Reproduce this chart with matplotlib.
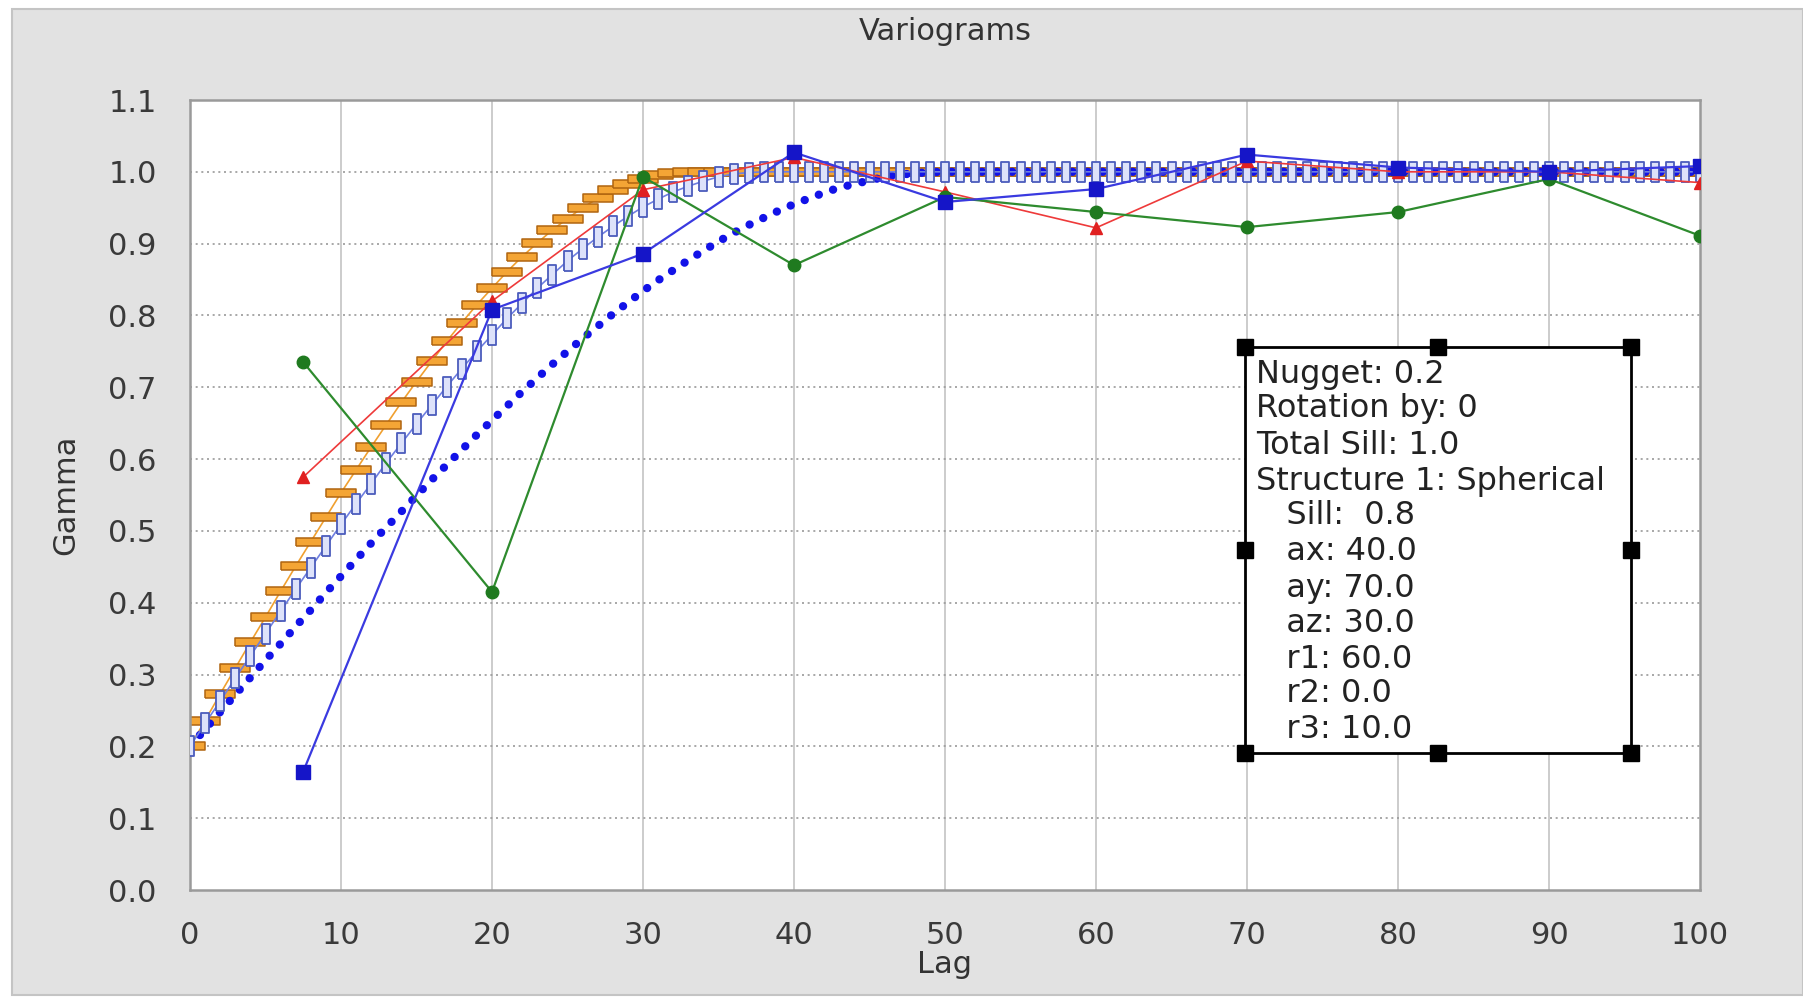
import matplotlib
matplotlib.use("Agg")
import matplotlib.pyplot as plt
from matplotlib.patches import Rectangle
import numpy as np

# ---------------- data ----------------
model_lags = np.arange(0, 101)

model_orange = [0.200, 0.236, 0.273, 0.309, 0.345, 0.380, 0.416, 0.451, 0.485, 0.519,
                0.553, 0.585, 0.617, 0.648, 0.679, 0.708, 0.736, 0.764, 0.790, 0.815,
                0.838, 0.861, 0.882, 0.901, 0.919, 0.935, 0.950, 0.963, 0.974, 0.983,
                0.990, 0.996, 0.999,
                1.0, 1.0, 1.0, 1.0, 1.0, 1.0, 1.0, 1.0, 1.0, 1.0,
                1.0, 1.0, 1.0, 1.0, 1.0, 1.0, 1.0, 1.0, 1.0, 1.0,
                1.0, 1.0, 1.0, 1.0, 1.0, 1.0, 1.0, 1.0, 1.0, 1.0,
                1.0, 1.0, 1.0, 1.0, 1.0, 1.0, 1.0, 1.0, 1.0, 1.0,
                1.0, 1.0, 1.0, 1.0, 1.0, 1.0, 1.0, 1.0, 1.0, 1.0,
                1.0, 1.0, 1.0, 1.0, 1.0, 1.0, 1.0, 1.0, 1.0, 1.0,
                1.0, 1.0, 1.0, 1.0, 1.0, 1.0, 1.0, 1.0]

model_lightblue = [0.200, 0.232, 0.263, 0.295, 0.326, 0.357, 0.388, 0.419, 0.449, 0.479,
                   0.509, 0.538, 0.566, 0.595, 0.622, 0.649, 0.675, 0.701, 0.726, 0.750,
                   0.773, 0.796, 0.817, 0.838, 0.857, 0.876, 0.893, 0.909, 0.924, 0.938,
                   0.951, 0.962, 0.972, 0.980, 0.987, 0.993, 0.997, 0.999,
                   1.0, 1.0, 1.0, 1.0, 1.0, 1.0, 1.0, 1.0, 1.0, 1.0,
                   1.0, 1.0, 1.0, 1.0, 1.0, 1.0, 1.0, 1.0, 1.0, 1.0,
                   1.0, 1.0, 1.0, 1.0, 1.0, 1.0, 1.0, 1.0, 1.0, 1.0,
                   1.0, 1.0, 1.0, 1.0, 1.0, 1.0, 1.0, 1.0, 1.0, 1.0,
                   1.0, 1.0, 1.0, 1.0, 1.0, 1.0, 1.0, 1.0, 1.0, 1.0,
                   1.0, 1.0, 1.0, 1.0, 1.0, 1.0, 1.0, 1.0, 1.0, 1.0,
                   1.0, 1.0, 1.0]

model_blue = [0.200, 0.224, 0.248, 0.272, 0.296, 0.320, 0.343, 0.367, 0.390, 0.414,
              0.437, 0.460, 0.483, 0.505, 0.527, 0.549, 0.571, 0.592, 0.613, 0.634,
              0.654, 0.674, 0.694, 0.713, 0.732, 0.750, 0.768, 0.785, 0.802, 0.818,
              0.834, 0.849, 0.863, 0.877, 0.890, 0.903, 0.915, 0.926, 0.936, 0.946,
              0.955, 0.963, 0.971, 0.978, 0.983, 0.988, 0.993, 0.996, 0.998, 0.9995,
              1.0, 1.0, 1.0, 1.0, 1.0, 1.0, 1.0, 1.0, 1.0, 1.0,
              1.0, 1.0, 1.0, 1.0, 1.0, 1.0, 1.0, 1.0, 1.0, 1.0,
              1.0, 1.0, 1.0, 1.0, 1.0, 1.0, 1.0, 1.0, 1.0, 1.0,
              1.0, 1.0, 1.0, 1.0, 1.0, 1.0, 1.0, 1.0, 1.0, 1.0,
              1.0, 1.0, 1.0, 1.0, 1.0, 1.0, 1.0, 1.0, 1.0, 1.0,
              1.0]

exp_lags = [7.5, 20, 30, 40, 50, 60, 70, 80, 90, 100]
exp_red = [0.575, 0.820, 0.975, 1.020, 0.972, 0.922, 1.015, 1.000, 1.000, 0.985]
exp_green = [0.735, 0.415, 0.993, 0.870, 0.965, 0.944, 0.923, 0.944, 0.990, 0.911]
exp_blue = [0.165, 0.808, 0.886, 1.027, 0.958, 0.976, 1.024, 1.006, 1.000, 1.008]

x_ticks = [0, 10, 20, 30, 40, 50, 60, 70, 80, 90, 100]
y_ticks = [0.0, 0.1, 0.2, 0.3, 0.4, 0.5, 0.6, 0.7, 0.8, 0.9, 1.0, 1.1]

info_lines = ["Nugget: 0.2", "Rotation by: 0", "Total Sill: 1.0",
              "Structure 1: Spherical", "   Sill:  0.8", "   ax: 40.0",
              "   ay: 70.0", "   az: 30.0", "   r1: 60.0", "   r2: 0.0", "   r3: 10.0"]

# ---------------- figure ----------------
W, H = 1803, 1002
fig = plt.figure(figsize=(W / 100, H / 100), dpi=100, facecolor="white")
bg = Rectangle((12 / W, 7 / H), 1 - 12 / W, (995 - 9) / H,
               transform=fig.transFigure, facecolor="#e2e2e2",
               edgecolor="#c4c4c4", lw=1.5, zorder=-10)
fig.add_artist(bg)

ax = fig.add_axes([190 / W, 1 - 890 / H, 1510 / W, 790 / H])
ax.set_zorder(1)
ax.set_facecolor("white")
ax.set_xlim(0, 100)
ax.set_ylim(0, 1.1)

# grid
for xv in x_ticks[1:-1]:
    ax.axvline(xv, color="#c4c4c4", lw=1.2, zorder=0.5)
for yv in y_ticks[1:-1]:
    ax.axhline(yv, color="#9a9a9a", lw=1.2, ls=(0, (1.2, 2.2)), zorder=0.5)

# model curves
orange_marker = [(-1, -0.27), (1, -0.27), (1, 0.27), (-1, 0.27), (-1, -0.27)]
blue_marker = [(-0.38, -1), (0.38, -1), (0.38, 1), (-0.38, 1), (-0.38, -1)]

ax.plot(model_lags, model_orange, color="#f0a030", lw=1.2, marker=orange_marker,
        markersize=21, markerfacecolor="#f4a535", markeredgecolor="#b06510",
        markeredgewidth=1.1, zorder=2)
ax.plot(model_lags, model_blue, color="#1212e8", lw=6.0, ls=(0, (0.01, 1.8)),
        dash_capstyle="round", zorder=2.5)
ax.plot(model_lags, model_lightblue, color="#6f7fe0", lw=1.2, marker=blue_marker,
        markersize=15, markerfacecolor="#dde2fa", markeredgecolor="#4b5cbc",
        markeredgewidth=1.3, zorder=3)

# experimental variograms
ax.plot(exp_lags, exp_red, color="#ee3a3a", lw=1.2, marker="^", markersize=9,
        markerfacecolor="#e02020", markeredgecolor="#e02020", zorder=5)
ax.plot(exp_lags, exp_green, color="#2e8b2e", lw=1.6, marker="o", markersize=9,
        markerfacecolor="#1f7a1f", markeredgecolor="#1f7a1f", zorder=6)
ax.plot(exp_lags, exp_blue, color="#3a3ae0", lw=1.6, marker="s", markersize=10,
        markerfacecolor="#1515c8", markeredgecolor="#1515c8", zorder=7)

# axes styling
for s in ax.spines.values():
    s.set_color("#9a9a9a")
    s.set_linewidth(1.8)
ax.set_xticks(x_ticks)
ax.set_yticks(y_ticks)
ax.set_xticklabels([str(v) for v in x_ticks])
ax.set_yticklabels(["%.1f" % v for v in y_ticks])
ax.tick_params(axis="both", length=0, labelsize=22, colors="#3a3a3a")
ax.tick_params(axis="x", pad=22)
ax.tick_params(axis="y", pad=24)

ax.set_xlabel("Lag", fontsize=22, color="#333333", labelpad=0)
ax.set_ylabel("Gamma", fontsize=22, color="#333333", labelpad=20)
fig.text(945 / W, 1 - 32 / H, "Variograms", ha="center", va="center",
         fontsize=22, color="#333333")

# info box
bx0, bx1 = (1245 - 190) / 1510, (1631 - 190) / 1510
by0, by1 = (890 - 753) / 790, (890 - 347) / 790
ax.add_patch(Rectangle((bx0, by0), bx1 - bx0, by1 - by0, transform=ax.transAxes,
                       facecolor="white", edgecolor="black", lw=2, zorder=10))
bxm, bym = (bx0 + bx1) / 2, (by0 + by1) / 2
hx = [bx0, bxm, bx1, bx0, bx1, bx0, bxm, bx1]
hy = [by1, by1, by1, bym, bym, by0, by0, by0]
ax.plot(hx, hy, ls="none", marker="s", markersize=11, color="black",
        transform=ax.transAxes, clip_on=False, zorder=11)

line_y = [374, 408, 445, 481, 515, 551, 588, 623, 659, 693, 730]
for txt, py in zip(info_lines, line_y):
    ax.text((1256 - 190) / 1510, (890 - py) / 790, txt, transform=ax.transAxes,
            ha="left", va="center", fontsize=23, color="#222222", zorder=12)

fig.savefig("out.png", dpi=100, facecolor="white")
